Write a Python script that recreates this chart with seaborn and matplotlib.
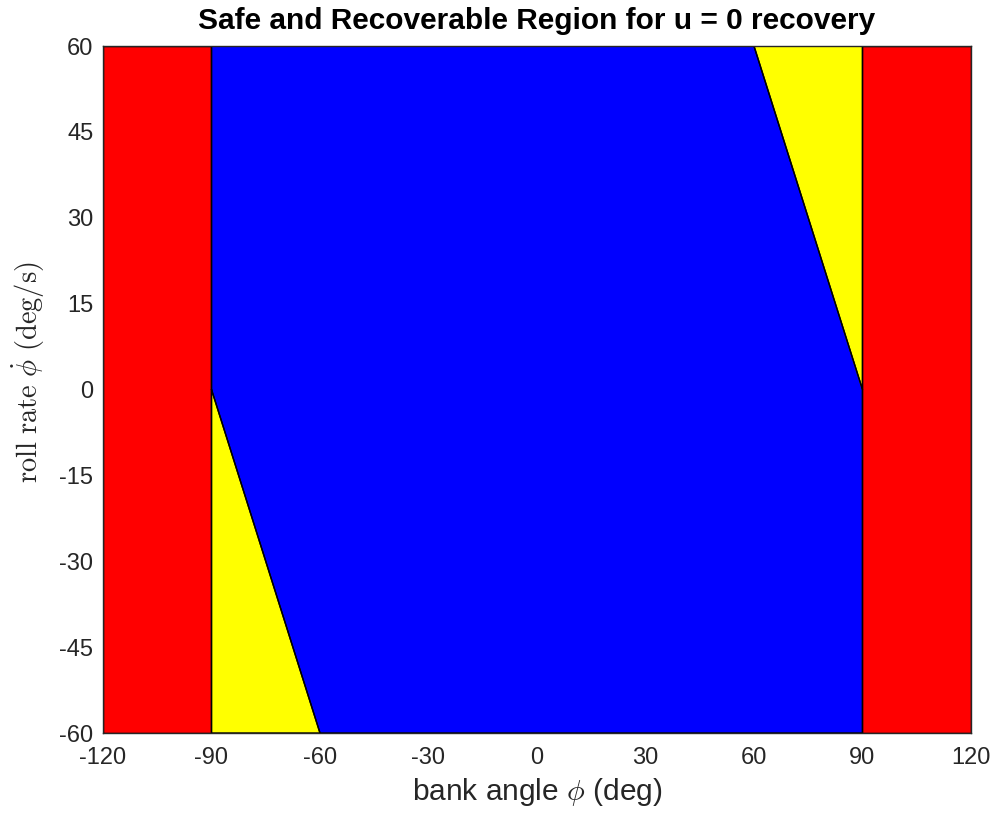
import matplotlib
matplotlib.use("Agg")
import matplotlib.pyplot as plt
import seaborn as sns
import pandas as pd

sns.set_style("white")
plt.rcParams['font.family'] = ['Liberation Sans', 'DejaVu Sans']
plt.rcParams['mathtext.fontset'] = 'cm'
plt.rcParams['axes.unicode_minus'] = False

# Data: region polygons (bank angle phi [deg], roll rate [deg/s])
x_ticks = [-120, -90, -60, -30, 0, 30, 60, 90, 120]
y_ticks = [-60, -45, -30, -15, 0, 15, 30, 45, 60]

unsafe_left_phi = [-120, -90, -90, -120]
unsafe_left_rate = [-60, -60, 60, 60]
unsafe_right_phi = [90, 120, 120, 90]
unsafe_right_rate = [-60, -60, 60, 60]

safe_phi = [-90, -60, 90, 90, 60, -90]
safe_rate = [0, -60, -60, 0, 60, 60]

recov_left_phi = [-90, -60, -90]
recov_left_rate = [0, -60, -60]
recov_right_phi = [90, 90, 60]
recov_right_rate = [0, 60, 60]

regions = [
    (unsafe_left_phi, unsafe_left_rate, '#ff0000'),
    (unsafe_right_phi, unsafe_right_rate, '#ff0000'),
    (safe_phi, safe_rate, '#0000ff'),
    (recov_left_phi, recov_left_rate, '#ffff00'),
    (recov_right_phi, recov_right_rate, '#ffff00'),
]

fig = plt.figure(figsize=(9.97, 8.16), dpi=100)
ax = fig.add_axes([0.1033, 0.1017, 0.8706, 0.8419])

for px, py, col in regions:
    ax.fill(px, py, facecolor=col, edgecolor='none', zorder=1)
    df = pd.DataFrame({'phi': px + [px[0]], 'rate': py + [py[0]]})
    sns.lineplot(data=df, x='phi', y='rate', sort=False, color='black',
                 linewidth=1.0, ax=ax, zorder=2, estimator=None)

ax.set_xlim(-120, 120)
ax.set_ylim(-60, 60)
ax.set_xticks(x_ticks)
ax.set_yticks(y_ticks)
ax.tick_params(labelsize=17, colors='#262626', length=0)
ax.tick_params(axis='x', pad=10)
ax.tick_params(axis='y', pad=7)
for s in ax.spines.values():
    s.set_color('#262626')
    s.set_linewidth(1.0)
    s.set_zorder(5)

ax.set_title('Safe and Recoverable Region for u = 0 recovery',
             fontsize=21.5, fontweight='bold', color='black', pad=12)
ax.set_xlabel(r'bank angle $\phi$ (deg)', fontsize=21.5, color='#262626', labelpad=5)
ax.set_ylabel(r'$\mathrm{roll\ rate}\ \dot{\phi}\ \mathrm{(deg/s)}$', fontsize=20.5,
              color='#262626', labelpad=9)
ax.yaxis.label.set_y(0.525)

fig.savefig('out.png', dpi=100)
